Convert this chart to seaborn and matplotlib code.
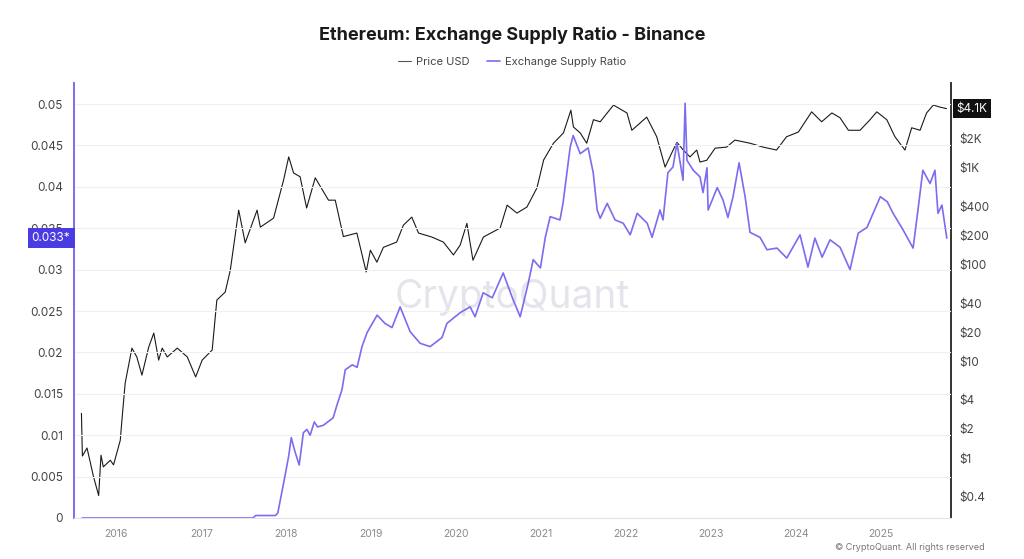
import pandas as pd
import matplotlib
matplotlib.use('Agg')
import matplotlib.pyplot as plt
import matplotlib.dates as mdates
import matplotlib.transforms as mtransforms
from matplotlib.ticker import FixedLocator, FixedFormatter, NullLocator
import seaborn as sns

# ETH price (USD)
price_dates = [
    '2015-08-04', '2015-08-08', '2015-08-28', '2015-09-25', '2015-10-17', '2015-10-27',
    '2015-11-06', '2015-12-06', '2015-12-20', '2016-01-18', '2016-01-25', '2016-02-08',
    '2016-03-08', '2016-03-29', '2016-04-20', '2016-05-19', '2016-06-10', '2016-07-01',
    '2016-07-16', '2016-08-07', '2016-09-19', '2016-11-01', '2016-12-07', '2017-01-04',
    '2017-02-16', '2017-03-08', '2017-04-13', '2017-05-05', '2017-06-10', '2017-07-08',
    '2017-08-28', '2017-09-11', '2017-11-07', '2017-12-20', '2018-01-11', '2018-02-01',
    '2018-03-01', '2018-03-29', '2018-05-05', '2018-07-01', '2018-07-30', '2018-09-03',
    '2018-10-31', '2018-12-10', '2018-12-28', '2019-01-25', '2019-02-22', '2019-04-20',
    '2019-05-19', '2019-06-24', '2019-07-23', '2019-09-18', '2019-11-07', '2019-12-20',
    '2020-01-18', '2020-02-16', '2020-03-13', '2020-04-27', '2020-07-08', '2020-08-07',
    '2020-09-18', '2020-10-31', '2020-12-13', '2021-01-11', '2021-02-22', '2021-04-06',
    '2021-05-08', '2021-05-19', '2021-06-17', '2021-07-15', '2021-08-13', '2021-09-11',
    '2021-11-07', '2022-01-04', '2022-01-25', '2022-03-30', '2022-05-12', '2022-06-17',
    '2022-07-15', '2022-08-07', '2022-09-03', '2022-10-02', '2022-10-31', '2022-11-14',
    '2022-12-13', '2023-01-18', '2023-03-08', '2023-04-13', '2023-06-17', '2023-08-13',
    '2023-10-09', '2023-11-21', '2024-01-11', '2024-03-08', '2024-04-20', '2024-06-03',
    '2024-07-08', '2024-08-13', '2024-10-02', '2024-11-14', '2024-12-13', '2025-01-25',
    '2025-03-01', '2025-04-13', '2025-05-12', '2025-06-17', '2025-07-15', '2025-08-13',
    '2025-09-11', '2025-10-09',
]
price_usd = [
    2.9, 1.05, 1.27, 0.64, 0.41, 1.07,
    0.81, 0.95, 0.85, 1.53, 2.47, 5.96,
    13.7, 11.1, 7.2, 14.0, 19.6, 10.3,
    13.7, 11.1, 13.7, 11.1, 6.9, 10.3,
    13.1, 43, 52, 88, 366, 168,
    366, 244, 303, 750, 1300, 886,
    810, 385, 790, 464, 464, 195,
    212, 84, 141, 106, 151, 171,
    256, 310, 212, 193, 171, 126,
    159, 267, 111, 193, 239, 412,
    341, 394, 620, 1210, 1800, 2300,
    3950, 2650, 2300, 1800, 3150, 3000,
    4460, 3700, 2450, 3350, 2100, 1020,
    1420, 1840, 1530, 1300, 1530, 1150,
    1200, 1600, 1640, 1940, 1800, 1640,
    1530, 2100, 2350, 3800, 3000, 3700,
    3300, 2450, 2450, 3150, 3800, 3150,
    2100, 1530, 2600, 2450, 3700, 4460,
    4250, 4100,
]

# exchange supply ratio (Binance)
ratio_dates = [
    '2015-08-07', '2017-08-10', '2017-08-22', '2017-11-15', '2017-11-25', '2017-12-20',
    '2018-01-11', '2018-01-22', '2018-02-05', '2018-02-25', '2018-03-15', '2018-03-30',
    '2018-04-13', '2018-05-01', '2018-05-15', '2018-06-09', '2018-07-21', '2018-08-07',
    '2018-08-28', '2018-09-11', '2018-10-11', '2018-11-01', '2018-11-22', '2018-12-14',
    '2019-01-26', '2019-03-01', '2019-03-31', '2019-05-05', '2019-06-17', '2019-07-30',
    '2019-09-11', '2019-11-01', '2019-11-22', '2020-01-18', '2020-03-01', '2020-03-22',
    '2020-04-26', '2020-06-04', '2020-07-21', '2020-08-28', '2020-10-02', '2020-11-06',
    '2020-11-27', '2020-12-28', '2021-01-18', '2021-02-08', '2021-03-22', '2021-04-04',
    '2021-05-05', '2021-05-18', '2021-06-17', '2021-07-21', '2021-08-12', '2021-08-29',
    '2021-09-11', '2021-10-11', '2021-11-14', '2021-12-19', '2022-01-18', '2022-02-17',
    '2022-04-01', '2022-04-22', '2022-05-26', '2022-06-08', '2022-06-29', '2022-07-21',
    '2022-08-07', '2022-09-02', '2022-09-11', '2022-09-19', '2022-10-16', '2022-11-14',
    '2022-11-27', '2022-12-14', '2022-12-19', '2023-01-27', '2023-02-21', '2023-03-14',
    '2023-04-05', '2023-05-01', '2023-05-27', '2023-06-17', '2023-07-30', '2023-08-29',
    '2023-10-11', '2023-11-22', '2024-01-18', '2024-02-21', '2024-03-22', '2024-04-22',
    '2024-05-26', '2024-07-08', '2024-08-20', '2024-09-24', '2024-11-01', '2024-12-28',
    '2025-01-27', '2025-02-21', '2025-04-05', '2025-05-18', '2025-06-08', '2025-06-29',
    '2025-07-30', '2025-08-20', '2025-09-02', '2025-09-19', '2025-10-10',
]
supply_ratio = [
    0.0, 0.0, 0.0003, 0.0003, 0.0006, 0.0042,
    0.0075, 0.0097, 0.0082, 0.0064, 0.0103, 0.0107,
    0.0100, 0.0116, 0.0110, 0.0112, 0.0121, 0.0137,
    0.0155, 0.0179, 0.0185, 0.0182, 0.0207, 0.0224,
    0.0245, 0.0235, 0.0230, 0.0255, 0.0225, 0.0211,
    0.0207, 0.0218, 0.0235, 0.0248, 0.0255, 0.0243,
    0.0272, 0.0266, 0.0296, 0.0267, 0.0243, 0.0284,
    0.0312, 0.0302, 0.0339, 0.0364, 0.0360, 0.0380,
    0.0448, 0.0462, 0.0440, 0.0447, 0.0417, 0.0372,
    0.0362, 0.0380, 0.0360, 0.0356, 0.0342, 0.0368,
    0.0356, 0.0339, 0.0372, 0.0360, 0.0417, 0.0424,
    0.0453, 0.0408, 0.0501, 0.0432, 0.0420, 0.0412,
    0.0393, 0.0423, 0.0372, 0.0399, 0.0384, 0.0363,
    0.0388, 0.0429, 0.0388, 0.0345, 0.0339, 0.0324,
    0.0326, 0.0314, 0.0342, 0.0303, 0.0338, 0.0315,
    0.0336, 0.0327, 0.0300, 0.0344, 0.0351, 0.0388,
    0.0382, 0.0368, 0.0348, 0.0326, 0.0372, 0.0420,
    0.0404, 0.0420, 0.0368, 0.0378, 0.0338,
]

ratio_ticks = [0, 0.005, 0.01, 0.015, 0.02, 0.025, 0.03, 0.035, 0.04, 0.045, 0.05]
price_ticks = [0.4, 1, 2, 4, 10, 20, 40, 100, 200, 400, 1000, 2000]
price_tick_labels = ['$0.4', '$1', '$2', '$4', '$10', '$20', '$40', '$100', '$200', '$400', '$1K', '$2K']

df_price = pd.DataFrame({'date': pd.to_datetime(price_dates), 'price': price_usd})
df_ratio = pd.DataFrame({'date': pd.to_datetime(ratio_dates), 'ratio': supply_ratio})

PURPLE = '#7b6cf0'
sns.set_theme(style='white')
plt.rcParams['font.family'] = ['Inter', 'DejaVu Sans']

fig = plt.figure(figsize=(10.24, 5.59), dpi=100)
ax = fig.add_axes([74 / 1024, 1 - 518 / 559, 877 / 1024, 435 / 559])
ax2 = ax.twinx()

# price line on the log axis, ratio line on the linear axis (drawn on top)
sns.lineplot(data=df_price, x='date', y='price', ax=ax2, color='#1a1a1a', linewidth=0.8)
ax.set_zorder(ax2.get_zorder() + 1)
ax.patch.set_visible(False)
sns.lineplot(data=df_ratio, x='date', y='ratio', ax=ax, color=PURPLE, linewidth=1.2)

ax.set_xlim(pd.Timestamp('2015-07-03'), pd.Timestamp('2025-10-28'))
ax.set_ylim(0, 0.05254)
ax.yaxis.set_major_locator(FixedLocator(ratio_ticks))
ax.yaxis.set_major_formatter(FixedFormatter(['0', '0.005', '0.01', '0.015', '0.02', '0.025',
                                             '0.03', '0.035', '0.04', '0.045', '0.05']))
ax.grid(axis='y', color='#f0f0f0', linewidth=0.8)
ax.tick_params(axis='y', length=0, labelsize=8.5, labelcolor='#444444', pad=8)
ax.xaxis.set_major_locator(mdates.YearLocator())
ax.xaxis.set_major_formatter(mdates.DateFormatter('%Y'))
ax.tick_params(axis='x', length=4, color='#e3e3e3', labelsize=7.5, labelcolor='#8a8a8a', pad=4)
ax.set_xlabel('')
ax.set_ylabel('')

ax2.set_yscale('log')
ax2.set_ylim(0.24, 7550)
ax2.yaxis.set_major_locator(FixedLocator(price_ticks))
ax2.yaxis.set_major_formatter(FixedFormatter(price_tick_labels))
ax2.yaxis.set_minor_locator(NullLocator())
ax2.tick_params(axis='y', length=0, labelsize=8.5, labelcolor='#444444', pad=6)
ax2.set_ylabel('')

for a in (ax, ax2):
    for side in ['top', 'left', 'right', 'bottom']:
        a.spines[side].set_visible(False)
ax.spines['left'].set_visible(True)
ax.spines['left'].set_color(PURPLE)
ax.spines['left'].set_linewidth(1.4)
ax.spines['bottom'].set_visible(True)
ax.spines['bottom'].set_color('#e3e3e3')
ax.spines['bottom'].set_linewidth(0.8)
ax2.spines['right'].set_visible(True)
ax2.spines['right'].set_color('#333333')
ax2.spines['right'].set_linewidth(1.4)

# last-value badges on both axes
trans_l = mtransforms.blended_transform_factory(ax.transAxes, ax.transData)
ax.text(-0.004, supply_ratio[-1], '0.033*', transform=trans_l, ha='right', va='center',
        fontsize=8.5, color='white', zorder=10, clip_on=False,
        bbox=dict(boxstyle='square,pad=0.35', facecolor='#4b3be3', edgecolor='none'))
trans_r = mtransforms.blended_transform_factory(ax2.transAxes, ax2.transData)
ax2.text(1.006, price_usd[-1], '$4.1K', transform=trans_r, ha='left', va='center',
         fontsize=8.5, color='white', zorder=10, clip_on=False,
         bbox=dict(boxstyle='square,pad=0.3', facecolor='#111111', edgecolor='none'))

fig.text(0.5, 1 - 35 / 559, 'Ethereum: Exchange Supply Ratio - Binance', ha='center', va='center',
         fontsize=13, fontweight='bold', color='#1a1a1a')
handles = [plt.Line2D([], [], color='#555555', linewidth=0.8),
           plt.Line2D([], [], color=PURPLE, linewidth=1.2)]
fig.legend(handles, ['Price USD', 'Exchange Supply Ratio'], loc='center',
           bbox_to_anchor=(0.5, 1 - 62 / 559), ncol=2, frameon=False, fontsize=8,
           handlelength=1.2, handletextpad=0.4, columnspacing=1.6, labelcolor='#444444')

fig.text(0.5, 1 - 297 / 559, 'CryptoQuant', ha='center', va='center', fontsize=28,
         color='#dcdce6', alpha=0.75, zorder=0)
fig.text(985 / 1024, 1 - 547 / 559, '© CryptoQuant. All rights reserved', ha='right', va='center',
         fontsize=6.5, color='#777777')

fig.savefig('out.png', dpi=100, facecolor='white')
